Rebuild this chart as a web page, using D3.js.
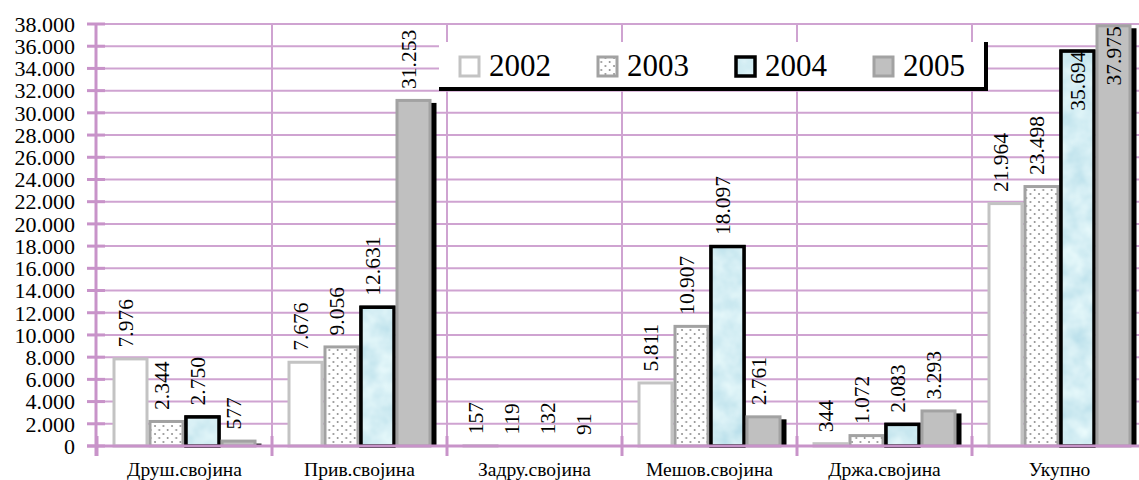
<!DOCTYPE html>
<html><head><meta charset="utf-8">
<script src="https://cdn.jsdelivr.net/npm/d3@7"></script>
<style>html,body{margin:0;padding:0;background:#fff;}svg{display:block;}</style>
</head><body>
<svg id="chart" width="1139" height="480"></svg>
<script>
const categories = ["Друш.својина","Прив.својина","Задру.својина","Мешов.својина","Држа.својина","Укупно"];
const years = ["2002","2003","2004","2005"];
const v2002 = [7976, 7676, 157, 5811, 344, 21964];
const v2003 = [2344, 9056, 119, 10907, 1072, 23498];
const v2004 = [2750, 12631, 132, 18097, 2083, 35694];
const v2005 = [577, 31253, 91, 2761, 3293, 37975];
const yTicks = [0,2000,4000,6000,8000,10000,12000,14000,16000,18000,20000,22000,24000,26000,28000,30000,32000,34000,36000,38000];

(function(){
const seriesVals = [v2002, v2003, v2004, v2005];
const pL = 97, pR = 1147, pT = 24, pB = 446;
const grid = "#cfa3d1", axisC = "#c893c9";
const font = "Liberation Serif";

const svg = d3.select("#chart");
const defs = svg.append("defs");
const dots = defs.append("pattern").attr("id","dots").attr("patternUnits","userSpaceOnUse").attr("width",8.5).attr("height",8);
dots.append("rect").attr("width",8.5).attr("height",8).attr("fill","#fff");
dots.append("circle").attr("cx",2).attr("cy",2).attr("r",0.9).attr("fill","#808080");
dots.append("circle").attr("cx",6.25).attr("cy",6).attr("r",0.9).attr("fill","#808080");
const f = defs.append("filter").attr("id","water").attr("x",0).attr("y",0).attr("width",1).attr("height",1);
f.append("feTurbulence").attr("type","fractalNoise").attr("baseFrequency","0.045").attr("numOctaves",3).attr("seed",7).attr("result","n");
f.append("feColorMatrix").attr("in","n").attr("type","matrix")
 .attr("values","0.45 0 0 0 0.43  0.3 0 0 0 0.7  0.2 0 0 0 0.8  0 0 0 0 1").attr("result","c");
f.append("feComposite").attr("in","c").attr("in2","SourceGraphic").attr("operator","in");

const x = d3.scaleBand().domain(categories).range([pL,pR]);
const xi = d3.scaleBand().domain(years).range([15.5, x.bandwidth()-15.5]);
const y = d3.scaleLinear().domain([0,38000]).range([pB,pT]);
const fmt = v => d3.format(",")(v).replace(/,/g,".");

// gridlines
svg.append("g").selectAll("line").data(yTicks.filter(d=>d>0)).join("line")
 .attr("x1",pL).attr("x2",pR).attr("y1",d=>y(d)).attr("y2",d=>y(d))
 .attr("stroke",grid).attr("stroke-width",2);
svg.append("g").selectAll("line").data(d3.range(1,categories.length+1)).join("line")
 .attr("x1",d=>pL+d*x.bandwidth()).attr("x2",d=>pL+d*x.bandwidth())
 .attr("y1",pT).attr("y2",pB).attr("stroke",grid).attr("stroke-width",2);

// axes
const yAxis = d3.axisLeft(y).tickValues(yTicks).tickSize(0).tickFormat(d=>d===0?"0":fmt(d));
const ya = svg.append("g").attr("transform",`translate(96,0)`).call(yAxis).attr("font-family",font);
ya.select(".domain").remove();
ya.selectAll("text").attr("x",-21).attr("dy","0.33em").attr("font-family",font).attr("font-size",22).attr("fill","#000");
svg.append("g").selectAll("line").data(yTicks).join("line")
 .attr("x1",87).attr("x2",105).attr("y1",d=>y(d)).attr("y2",d=>y(d)).attr("stroke",axisC).attr("stroke-width",3);
svg.append("line").attr("x1",96).attr("x2",96).attr("y1",pT).attr("y2",456).attr("stroke",axisC).attr("stroke-width",3);

const xAxis = d3.axisBottom(x).tickSize(0);
const xa = svg.append("g").attr("transform",`translate(0,${pB})`).call(xAxis).attr("font-family",font);
xa.select(".domain").remove();
xa.selectAll("text").attr("y",30).attr("dy",0).attr("font-family",font).attr("font-size",19.5).attr("fill","#000");

// bars
const styles = [
 {fill:"#fff", stroke:"#c3c3c3"},
 {fill:"url(#dots)", stroke:"#a2a2a2"},
 {fill:"#a8d8e4", stroke:"#000", filter:true},
 {fill:"#c0c0c0", stroke:"#a2a2a2", shadow:true}
];
years.forEach((yr,si)=>{
  const st = styles[si];
  const g = svg.append("g");
  const data = categories.map((c,i)=>({c, v:seriesVals[si][i]}));
  const bx = d=>x(d.c)+xi(yr);
  const bw = xi.bandwidth();
  if (st.shadow) {
    g.selectAll("rect.sh").data(data).join("rect").attr("class","sh")
     .attr("x",d=>bx(d)+5).attr("y",d=>y(d.v)+4).attr("width",bw).attr("height",d=>pB-y(d.v)-3).attr("fill","#000");
  }
  g.selectAll("rect.b").data(data).join("rect").attr("class","b")
   .attr("x",d=>bx(d)+1.5).attr("y",d=>y(d.v)+1.5).attr("width",bw-3).attr("height",d=>Math.max(0,pB-y(d.v)-1.5))
   .attr("fill",st.fill).attr("stroke",st.stroke).attr("stroke-width",3);
  if (st.filter) {
    g.selectAll("rect.t").data(data).join("rect").attr("class","t")
     .attr("x",d=>bx(d)+1.5).attr("y",d=>y(d.v)+1.5).attr("width",bw-3).attr("height",d=>Math.max(0,pB-y(d.v)-1.5))
     .attr("fill","#000").attr("filter","url(#water)");
    g.selectAll("rect.o").data(data).join("rect").attr("class","o")
     .attr("x",d=>bx(d)+1.5).attr("y",d=>y(d.v)+1.5).attr("width",bw-3).attr("height",d=>Math.max(0,pB-y(d.v)-1.5))
     .attr("fill","none").attr("stroke","#000").attr("stroke-width",3.5);
  }
  g.selectAll("text").data(data).join("text")
   .each(function(d){
     const t = d3.select(this);
     const cx = bx(d)+bw/2;
     const yt = y(d.v);
     const inside = d.v > 33000;
     if (inside) {
       t.attr("transform",`translate(${cx+7},${yt+2}) rotate(-90)`).attr("text-anchor","end");
     } else {
       t.attr("transform",`translate(${cx+2},${yt-10}) rotate(-90)`).attr("text-anchor","start");
     }
   })
   .attr("font-family",font).attr("font-size",21.5).attr("fill","#000")
   .text(d=>fmt(d.v));
});

// x axis line and ticks
svg.append("line").attr("x1",87).attr("x2",pR).attr("y1",pB).attr("y2",pB).attr("stroke",axisC).attr("stroke-width",3);
svg.append("g").selectAll("line").data(d3.range(categories.length+1)).join("line")
 .attr("x1",d=>pL+d*x.bandwidth()).attr("x2",d=>pL+d*x.bandwidth())
 .attr("y1",436).attr("y2",456).attr("stroke",axisC).attr("stroke-width",3);

// legend
const lg = svg.append("g");
lg.append("rect").attr("x",439).attr("y",42).attr("width",548).attr("height",47).attr("fill","#fff");
lg.append("line").attr("x1",986).attr("x2",986).attr("y1",42).attr("y2",91).attr("stroke","#000").attr("stroke-width",4);
lg.append("line").attr("x1",439).attr("x2",988).attr("y1",89).attr("y2",89).attr("stroke","#000").attr("stroke-width",4);
years.forEach((yr,i)=>{
  const st = styles[i];
  const sx = 460 + i*138, sy = 57;
  if (st.filter) {
    lg.append("rect").attr("x",sx).attr("y",sy).attr("width",19).attr("height",19).attr("fill","#000").attr("filter","url(#water)");
    lg.append("rect").attr("x",sx).attr("y",sy).attr("width",19).attr("height",19).attr("fill","none").attr("stroke","#000").attr("stroke-width",3.5);
  } else {
    lg.append("rect").attr("x",sx).attr("y",sy).attr("width",19).attr("height",19).attr("fill",st.fill).attr("stroke",st.stroke).attr("stroke-width",3);
  }
  lg.append("text").attr("x",sx+29).attr("y",76).text(yr)
   .attr("font-family",font).attr("font-size",31).attr("fill","#000");
});
})();
</script>
</body></html>
